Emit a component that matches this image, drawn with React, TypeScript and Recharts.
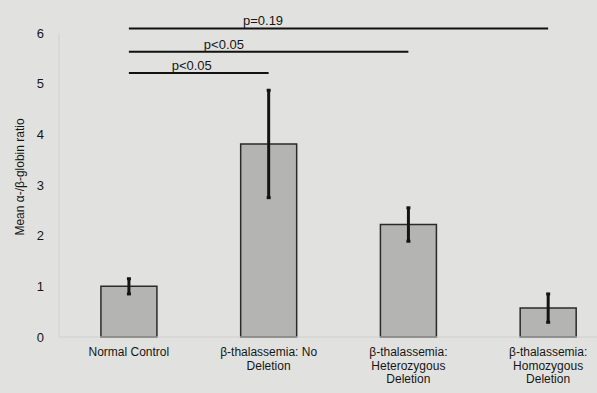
import React from 'react';
import {
    BarChart,
    Bar,
    XAxis,
    YAxis,
    ErrorBar,
    ReferenceLine,
    Label
} from 'recharts';

// groups on the x axis
const categories = [
    'Normal Control',
    'β-thalassemia: No Deletion',
    'β-thalassemia: Heterozygous Deletion',
    'β-thalassemia: Homozygous Deletion'
];
const tickLines = [
    ['Normal Control'],
    ['β-thalassemia: No', 'Deletion'],
    ['β-thalassemia:', 'Heterozygous', 'Deletion'],
    ['β-thalassemia:', 'Homozygous', 'Deletion']
];

// mean alpha/beta globin ratio and its error
const meanRatio = [1.0, 3.81, 2.22, 0.57];
const ratioError = [0.15, 1.06, 0.33, 0.28];
const yTicks = [0, 1, 2, 3, 4, 5, 6];

// pairwise comparisons drawn above the bars
const compFrom = [0, 0, 0];
const compTo = [3, 2, 1];
const compLevel = [6.09, 5.63, 5.21];
const compLabel = ['p=0.19', 'p<0.05', 'p<0.05'];

const data = categories.map((name, i) => ({ name, ratio: meanRatio[i], err: ratioError[i] }));

const FONT = '"Liberation Sans", Arial, sans-serif';
const INK = '#161616';
const labelShift = [0.32, 0.34, 0.45];

const XTick = (props: any) => {
    const { x, y, payload } = props;
    const lines = tickLines[categories.indexOf(payload.value)] || [payload.value];
    return (
        <text x={x} y={y} textAnchor="middle" fill={INK} fontSize={12} fontFamily={FONT}>
            {lines.map((l, i) => (
                <tspan key={i} x={x} dy={i === 0 ? 19 : 13.5}>{l}</tspan>
            ))}
        </text>
    );
};

const YTitle = (props: any) => {
    const vb = props.viewBox || { x: 0, y: 0, width: 0, height: 0 };
    const cx = vb.x + 20;
    const cy = vb.y + vb.height / 2 - 8;
    return (
        <text x={cx} y={cy} transform={`rotate(-90 ${cx} ${cy})`} textAnchor="middle"
            dominantBaseline="central" fill={INK} fontSize={12} fontFamily={FONT}>
            Mean α-/β-globin ratio
        </text>
    );
};

const compLabelContent = (i: number) => (props: any) => {
    const vb = props.viewBox;
    if (!vb) return null;
    return (
        <text x={vb.x + vb.width * labelShift[i]} y={vb.y - 3} textAnchor="middle"
            fill={INK} fontSize={13} fontFamily={FONT}>
            {compLabel[i]}
        </text>
    );
};

const App: React.FC = () => {
    return (
        <div style={{ position: 'fixed', left: 0, top: 0, width: 597, height: 393, overflow: 'hidden', background: '#e1e2df' }}>
            <BarChart width={620} height={393} data={data} margin={{ top: 33, right: 2, bottom: 0, left: 0 }}
                barCategoryGap="30%">
                <XAxis
                    dataKey="name"
                    height={56}
                    tick={<XTick />}
                    tickLine={false}
                    tickSize={0}
                    tickMargin={0}
                    interval={0}
                    axisLine={{ stroke: '#cfd0cc' }}
                />
                <YAxis
                    width={59}
                    domain={[0, 6]}
                    ticks={yTicks}
                    tickLine={false}
                    tickSize={6}
                    tickMargin={9}
                    axisLine={{ stroke: '#d0d1cd' }}
                    tick={{ fill: INK, fontSize: 13, fontFamily: FONT }}
                >
                    <Label content={YTitle} />
                </YAxis>
                <Bar dataKey="ratio" fill="#b4b5b2" stroke="#2a2a2a" strokeWidth={1.5} isAnimationActive={false}>
                    <ErrorBar dataKey="err" width={2} strokeWidth={3} stroke="#141414" direction="y" isAnimationActive={false} />
                </Bar>
                {compLevel.map((lvl, i) => (
                    <ReferenceLine
                        key={i}
                        segment={[{ x: categories[compFrom[i]], y: lvl }, { x: categories[compTo[i]], y: lvl }]}
                        stroke="#111"
                        strokeWidth={2}
                        ifOverflow="visible"
                    >
                        <Label content={compLabelContent(i)} />
                    </ReferenceLine>
                ))}
            </BarChart>
        </div>
    );
};

export default App;
